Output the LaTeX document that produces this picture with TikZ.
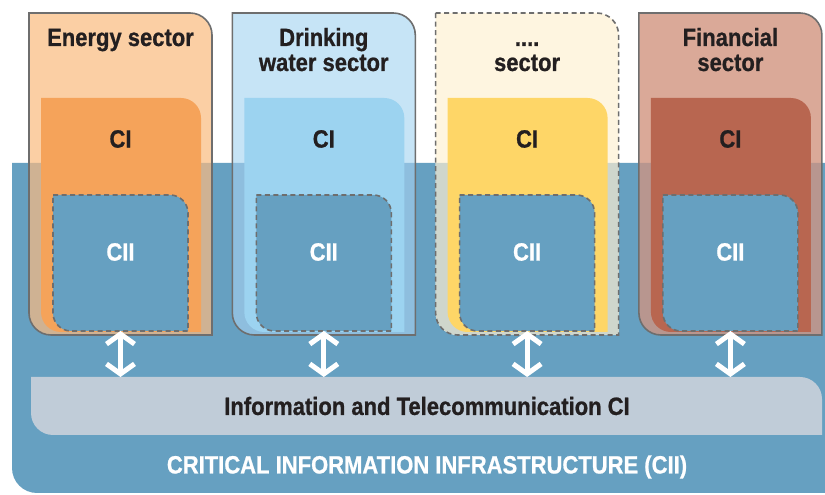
\documentclass[tikz,border=0pt]{standalone}
\usepackage{fontspec}
\newfontfamily\lbl{Liberation Sans Bold}[FakeStretch=0.88,FakeBold=0.8]
\usetikzlibrary{arrows.meta}
\definecolor{cblue}{HTML}{66A0C1}
\definecolor{bord}{HTML}{6E6E6E}
\definecolor{txt}{HTML}{231F20}
\definecolor{infogray}{HTML}{C0CCD8}
\definecolor{eo}{HTML}{FBCFA4}\definecolor{ev}{HTML}{CFB293}\definecolor{ec}{HTML}{F5A35A}
\definecolor{wo}{HTML}{C6E4F6}\definecolor{wv}{HTML}{8EBEDE}\definecolor{wc}{HTML}{9CD3F0}
\definecolor{do}{HTML}{FEF5E0}\definecolor{dv}{HTML}{CFD6CC}\definecolor{dc}{HTML}{FED667}
\definecolor{fo}{HTML}{DAA998}\definecolor{fv}{HTML}{B8968F}\definecolor{fc}{HTML}{B86650}
% leaf shape: top-left and bottom-right sharp, top-right and bottom-left rounded
\def\leaf#1#2#3#4#5{(#1,#4) -- ({#3-#5},#4) arc[start angle=90,end angle=0,radius=#5] -- (#3,#2) -- ({#1+#5},#2) arc[start angle=270,end angle=180,radius=#5] -- cycle}
\tikzset{
  outerline/.style={draw=bord,line width=1.6pt},
  dashline/.style={draw=bord,line width=1.6pt,dash pattern=on 5pt off 3.5pt},
  darktext/.style={text=txt,font=\lbl\fontsize{25}{25}\selectfont,inner sep=0pt},
  lighttext/.style={text=white,font=\lbl\fontsize{25}{25}\selectfont,inner sep=0pt},
  dblarrow/.style={draw=white,line width=5pt,{Straight Barb[length=10pt,width=28pt]}-{Straight Barb[length=10pt,width=28pt]}}
}
% #1 index, #2 outer, #3 overlap, #4 CI colour, #5 label, #6 border style, #7 baseline of last label line
\newcommand\mksector[7]{%
  \pgfmathsetmacro\L{29+203.3*#1}\pgfmathsetmacro\R{\L+183}\pgfmathsetmacro\C{\L+91.5}
  \fill[#2] \leaf{\L}{160}{\R}{482}{22};
  \begin{scope}
    \clip \leaf{12}{2}{850}{332}{25};
    \fill[#3] \leaf{\L}{160}{\R}{482}{22};
  \end{scope}
  \fill[#4] \leaf{\L+12}{163}{\R-11}{397}{20};
  \path[fill=cblue,dashline] \leaf{\L+24}{164}{\R-24}{300}{18};
  \path[#6] \leaf{\L}{160}{\R}{482}{22};
  \node[darktext,align=center,anchor=base] (s#1) at (\C,#7) {#5};
  \node[darktext] (ci#1) at (\C,356) {CI};
  \node[lighttext] (cii#1) at (\C,243) {CII};
  \coordinate (b#1) at (\C,164);
  \coordinate (t#1) at (\C,118);
}
\begin{document}
\begin{tikzpicture}[x=1pt,y=1pt]
\useasboundingbox[fill=white] (0,0) rectangle (825,495);
\fill[cblue] \leaf{12}{2}{850}{332}{25};
\mksector{0}{eo}{ev}{ec}{Energy sector}{outerline}{449}
\mksector{1}{wo}{wv}{wc}{Drinking\\[0pt]water sector}{outerline}{424}
\mksector{2}{do}{dv}{dc}{....\\[0pt]sector}{dashline}{424}
\mksector{3}{fo}{fv}{fc}{Financial\\[0pt]sector}{outerline}{424}
\fill[infogray] \leaf{31}{60}{822}{118}{22};
\node[darktext] (info) at (427,89) {Information and Telecommunication CI};
\node[lighttext] (cii) at (427,28) {CRITICAL INFORMATION INFRASTRUCTURE (CII)};
\foreach \k in {0,1,2,3} { \draw[dblarrow] (b\k) -- (t\k); }
\end{tikzpicture}
\end{document}
